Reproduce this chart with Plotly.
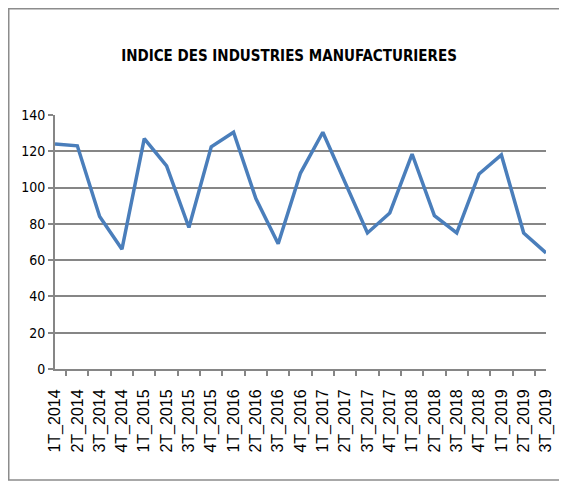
import plotly.graph_objects as go

categories = ["1T_2014", "2T_2014", "3T_2014", "4T_2014",
              "1T_2015", "2T_2015", "3T_2015", "4T_2015",
              "1T_2016", "2T_2016", "3T_2016", "4T_2016",
              "1T_2017", "2T_2017", "3T_2017", "4T_2017",
              "1T_2018", "2T_2018", "3T_2018", "4T_2018",
              "1T_2019", "2T_2019", "3T_2019"]
values = [124, 123, 84, 66,
          127, 112, 78, 122.5,
          130.5, 94, 69, 108,
          130.5, 102.5, 75, 86,
          118.5, 84.5, 75, 107.5,
          118, 75, 64]
y_ticks = [0, 20, 40, 60, 80, 100, 120, 140]

OFF = 8  # page body margin
W, H = 567 - OFF, 482 - OFF
L, R, T, B = 55 - OFF, 546 - OFF, 115 - OFF, 369 - OFF

fig = go.Figure()
fig.add_trace(go.Scatter(x=categories, y=values, mode="lines",
                         line=dict(color="#4A7EBB", width=3.5), showlegend=False))

def px_x(p):  # p in figure pixel coordinates
    return (p - L) / (R - L)

def px_y(p):
    return (B - p) / (B - T)

COND = "DejaVu Sans Condensed, Liberation Sans Narrow, Arial Narrow, sans-serif"

fig.update_layout(
    width=W, height=H,
    margin=dict(l=L, r=W - R, t=T, b=H - B),
    paper_bgcolor="white", plot_bgcolor="white",
    title=dict(text="<b>INDICE DES INDUSTRIES MANUFACTURIERES</b>",
               x=(289 - OFF) / W, y=1 - (56 - OFF) / H, xref="container", yref="container",
               xanchor="center", yanchor="middle",
               font=dict(family=COND, size=15, color="black")),
    xaxis=dict(type="category", tickangle=-90, tickson="boundaries",
               ticks="outside", ticklen=5, tickcolor="#868686", tickwidth=1.5,
               showline=True, linecolor="#868686", linewidth=2,
               showgrid=False, zeroline=False, ticklabelstandoff=12,
               tickfont=dict(family="Liberation Sans, Arial", size=16, color="black")),
    yaxis=dict(range=[0, 140], tickvals=y_ticks, ticks="outside", ticklen=5,
               tickcolor="#868686", tickwidth=1.5,
               showline=True, linecolor="#868686", linewidth=2,
               showgrid=True, gridcolor="#868686", gridwidth=2, zeroline=False,
               tickfont=dict(family=COND, size=14, color="black")),
    shapes=[dict(type="rect", xref="paper", yref="paper",
                 x0=px_x(0.75), x1=px_x(W - 1), y0=px_y(H - 2), y1=px_y(0.75),
                 line=dict(color="#8c8c8c", width=1.5), fillcolor="rgba(0,0,0,0)", layer="below")],
)

fig.write_html("out.html")
